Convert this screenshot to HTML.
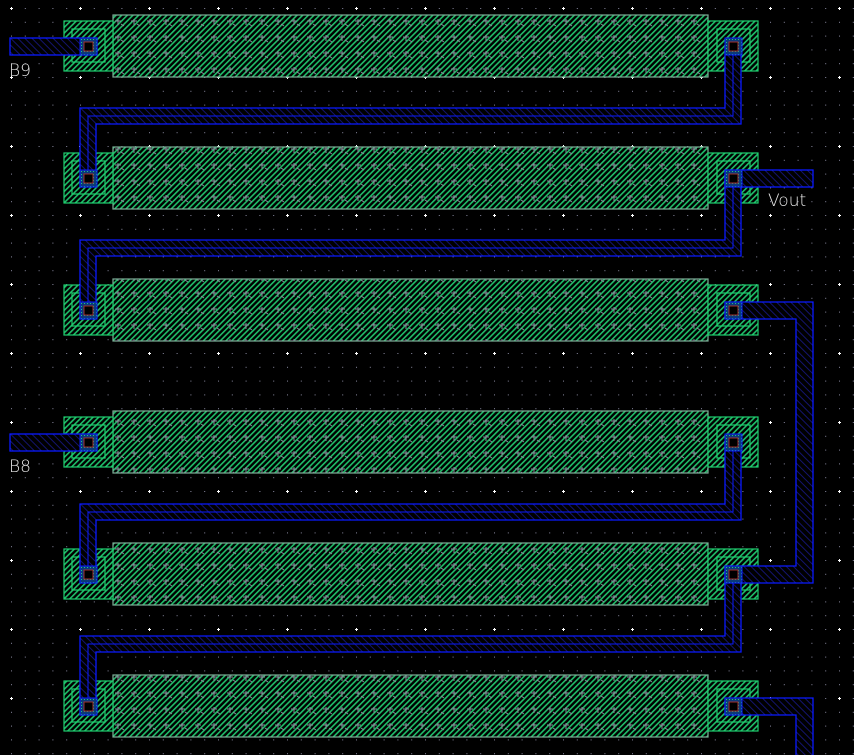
<!DOCTYPE html>
<html><head><meta charset="utf-8"><style>
html,body{margin:0;padding:0;background:#000;}
svg{display:block}
text{font-family:"DejaVu Sans","Liberation Sans",sans-serif;fill:#e8e8e8;font-weight:200}
</style></head><body>
<svg width="854" height="755" viewBox="0 0 854 755" xmlns="http://www.w3.org/2000/svg">
<defs>
<pattern id="dots" x="11" y="8" width="13.8" height="13.8" patternUnits="userSpaceOnUse">
<rect x="0" y="0" width="1" height="1" fill="#8a8aa0"/>
</pattern>
<pattern id="major" x="10" y="7" width="69" height="69" patternUnits="userSpaceOnUse">
<rect x="0" y="1" width="3" height="1" fill="#fff"/><rect x="1" y="0" width="1" height="3" fill="#fff"/>
</pattern>
<pattern id="gh" width="4" height="4" patternUnits="userSpaceOnUse" patternTransform="rotate(45)">
<rect width="4" height="4" fill="#000"/><rect width="1.6" height="4" fill="#1fbf6a"/>
</pattern>
<pattern id="marks" width="16" height="16" patternUnits="userSpaceOnUse">
<path d="M3 5h6M6 3v6M9 8l3 2" stroke="#8a8a9a" stroke-width="1" fill="none"/>
</pattern>
<pattern id="bh" width="5" height="5" patternUnits="userSpaceOnUse" patternTransform="rotate(-45)">
<rect width="5" height="5" fill="#000"/><rect width="1" height="5" fill="#14146e"/>
</pattern>
<pattern id="ch" width="3" height="3" patternUnits="userSpaceOnUse">
<rect width="3" height="3" fill="#0a3a7a"/><rect width="1" height="1" fill="#20c080"/>
</pattern>
</defs>
<rect width="854" height="755" fill="#000"/>
<rect width="854" height="755" fill="url(#dots)"/>
<rect width="854" height="755" fill="url(#major)"/>

<g>
<g fill="url(#gh)" stroke="#7fb09a" stroke-width="1.2">
<rect x="113" y="15" width="595" height="62"/>
<rect x="113" y="147" width="595" height="62"/>
<rect x="113" y="279" width="595" height="62"/>
<rect x="113" y="411" width="595" height="62"/>
<rect x="113" y="543" width="595" height="62"/>
<rect x="113" y="675" width="595" height="62"/>
</g>
<g fill="url(#marks)">
<rect x="113" y="15" width="595" height="62"/>
<rect x="113" y="147" width="595" height="62"/>
<rect x="113" y="279" width="595" height="62"/>
<rect x="113" y="411" width="595" height="62"/>
<rect x="113" y="543" width="595" height="62"/>
<rect x="113" y="675" width="595" height="62"/>
</g>
<g fill="url(#gh)" stroke="#1fd070" stroke-width="1.2">
<rect x="64" y="21" width="49" height="50"/><rect x="708" y="21" width="50" height="50"/>
<rect x="64" y="153" width="49" height="50"/><rect x="708" y="153" width="50" height="50"/>
<rect x="64" y="285" width="49" height="50"/><rect x="708" y="285" width="50" height="50"/>
<rect x="64" y="417" width="49" height="50"/><rect x="708" y="417" width="50" height="50"/>
<rect x="64" y="549" width="49" height="50"/><rect x="708" y="549" width="50" height="50"/>
<rect x="64" y="681" width="49" height="50"/><rect x="708" y="681" width="50" height="50"/>
</g>
<g fill="none" stroke="#1fd070" stroke-width="1.2">
<rect x="72" y="29" width="33" height="33"/><rect x="717" y="29" width="33" height="33"/>
<rect x="72" y="161" width="33" height="33"/><rect x="717" y="161" width="33" height="33"/>
<rect x="72" y="293" width="33" height="33"/><rect x="717" y="293" width="33" height="33"/>
<rect x="72" y="425" width="33" height="33"/><rect x="717" y="425" width="33" height="33"/>
<rect x="72" y="557" width="33" height="33"/><rect x="717" y="557" width="33" height="33"/>
<rect x="72" y="689" width="33" height="33"/><rect x="717" y="689" width="33" height="33"/>
</g>
</g>

<g fill="url(#bh)" stroke="#0a1aff" stroke-width="1.3">
<polygon points="725,46 741,46 741,124 96,124 96,187 80,187 80,108 725,108"/>
<polygon points="725,178 741,178 741,256 96,256 96,319 80,319 80,240 725,240"/>
<polygon points="725,442 741,442 741,520 96,520 96,583 80,583 80,504 725,504"/>
<polygon points="725,574 741,574 741,652 96,652 96,715 80,715 80,636 725,636"/>
<polygon points="725,302 813,302 813,583 725,583 725,566 796,566 796,319 725,319"/>
<polygon points="725,698 813,698 813,760 796,760 796,715 725,715"/>
<rect x="10" y="38" width="87" height="17"/>
<rect x="10" y="434" width="87" height="17"/>
<rect x="725" y="170" width="88" height="17"/>
</g>
<g fill="none" stroke="#0a1aff" stroke-width="1">
<polyline points="733,46 733,116 88,116 88,187"/>
<polyline points="733,178 733,248 88,248 88,319"/>
<polyline points="733,442 733,512 88,512 88,583"/>
<polyline points="733,574 733,644 88,644 88,715"/>
</g>
<g fill="url(#ch)" stroke="#0a1aff" stroke-width="1">
<rect x="80" y="38" width="17" height="17"/><rect x="725" y="38" width="17" height="17"/>
<rect x="80" y="170" width="17" height="17"/><rect x="725" y="170" width="17" height="17"/>
<rect x="80" y="302" width="17" height="17"/><rect x="725" y="302" width="17" height="17"/>
<rect x="80" y="434" width="17" height="17"/><rect x="725" y="434" width="17" height="17"/>
<rect x="80" y="566" width="17" height="17"/><rect x="725" y="566" width="17" height="17"/>
<rect x="80" y="698" width="17" height="17"/><rect x="725" y="698" width="17" height="17"/>
</g>
<g fill="#000" stroke="#a03030" stroke-width="1">
<rect x="84" y="42" width="9" height="9"/><rect x="729" y="42" width="9" height="9"/>
<rect x="84" y="174" width="9" height="9"/><rect x="729" y="174" width="9" height="9"/>
<rect x="84" y="306" width="9" height="9"/><rect x="729" y="306" width="9" height="9"/>
<rect x="84" y="438" width="9" height="9"/><rect x="729" y="438" width="9" height="9"/>
<rect x="84" y="570" width="9" height="9"/><rect x="729" y="570" width="9" height="9"/>
<rect x="84" y="702" width="9" height="9"/><rect x="729" y="702" width="9" height="9"/>
</g>

<text x="9" y="76" font-size="17">B9</text>
<text x="9" y="472" font-size="17">B8</text>
<text x="768" y="206" font-size="17">Vout</text>
</svg>
</body></html>
